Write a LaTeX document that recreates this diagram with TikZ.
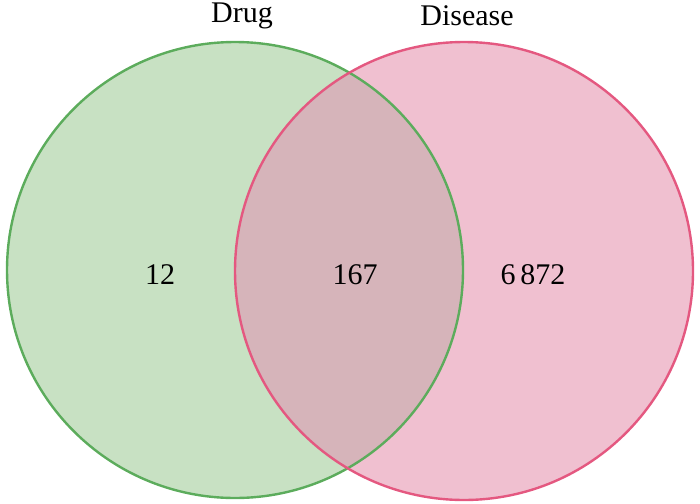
\documentclass[tikz,border=0pt]{standalone}
\usepackage{fontspec}
\setmainfont{Liberation Serif}
\definecolor{gfill}{RGB}{200,225,195}
\definecolor{gline}{RGB}{92,172,92}
\definecolor{pfill}{RGB}{240,192,208}
\definecolor{pline}{RGB}{228,88,128}
\definecolor{ofill}{RGB}{214,180,186}
\begin{document}
\begin{tikzpicture}[x=1pt,y=-1pt,
  lbl/.style={font=\fontsize{30}{34}\selectfont, text=black, inner sep=0pt}]
\useasboundingbox (0,0) rectangle (700,503);
\coordinate (gc) at (235,270);
\coordinate (pc) at (464,271);
\fill[gfill] (gc) circle (228);
\fill[pfill] (pc) circle (229);
\begin{scope}
  \clip (gc) circle (228);
  \fill[ofill] (pc) circle (229);
\end{scope}
\draw[gline, line width=2.4pt] (gc) circle (228);
\draw[pline, line width=2.4pt] (pc) circle (229);
\node[lbl] (drug) at (242,16) {Drug};
\node[lbl] (disease) at (467,16) {Disease};
\node[lbl] (a) at (160,275) {12};
\node[lbl] (b) at (355,275) {167};
\node[lbl] (c) at (533,275) {6\,872};
\end{tikzpicture}
\end{document}
